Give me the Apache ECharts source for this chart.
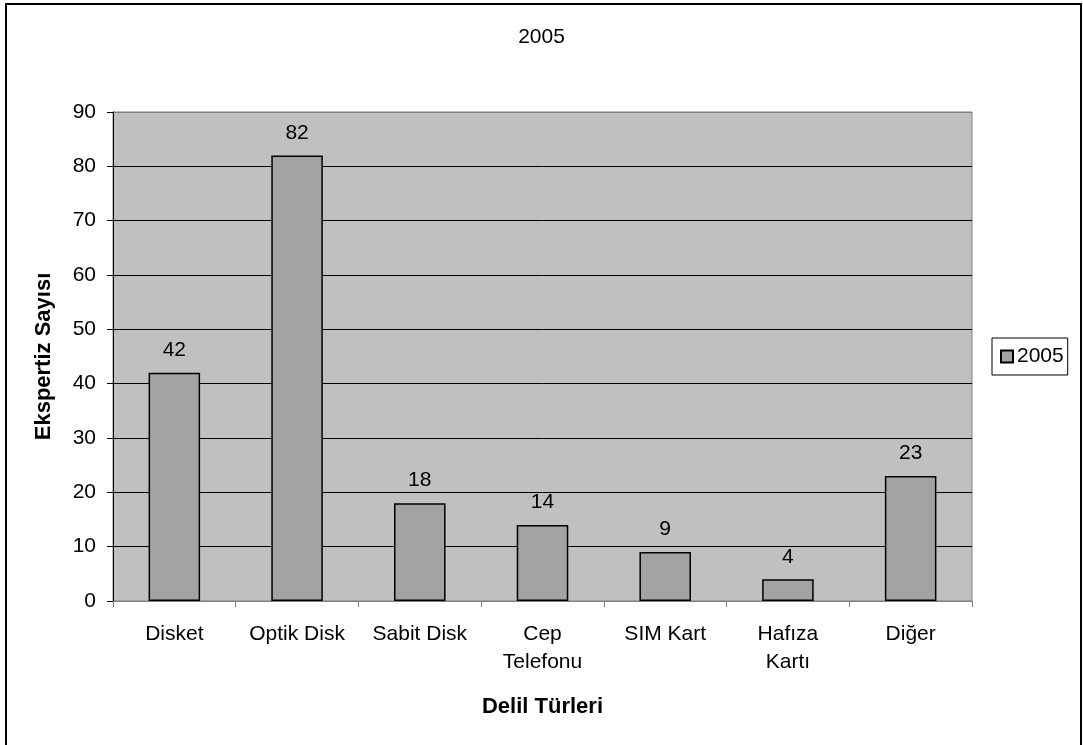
<!DOCTYPE html>
<html>
<head>
<meta charset="utf-8">
<script src="https://cdn.jsdelivr.net/npm/echarts@6/dist/echarts.min.js"></script>
<style>
  html, body { margin: 0; padding: 0; background: #fff; }
  #chart { width: 1083px; height: 745px; }
</style>
</head>
<body>
<div id="chart"></div>
<script>
// Evidence types examined in 2005 and their counts
const categories = ['Disket', 'Optik Disk', 'Sabit Disk', 'Cep\nTelefonu', 'SIM Kart', 'Hafıza\nKartı', 'Diğer'];
const counts2005 = [42, 82, 18, 14, 9, 4, 23];
const seriesName = '2005';
const chartTitle = '2005';
const yAxisTitle = 'Ekspertiz Sayısı';
const xAxisTitle = 'Delil Türleri';

const FONT = "'Liberation Sans', Arial, sans-serif";
const FS = 21;

const chart = echarts.init(document.getElementById('chart'), null, { renderer: 'canvas' });

chart.setOption({
  animation: false,
  backgroundColor: '#fff',
  textStyle: { fontFamily: FONT, color: '#000' },
  title: {
    text: chartTitle,
    left: 'center',
    top: 22,
    textStyle: { fontFamily: FONT, fontSize: FS, fontWeight: 'normal', color: '#000' }
  },
  legend: {
    left: 992,
    top: 338,
    orient: 'vertical',
    backgroundColor: '#fff',
    borderColor: '#000',
    borderWidth: 1,
    borderRadius: 0,
    padding: [8, 4, 8, 8],
    itemWidth: 12,
    itemHeight: 12,
    icon: 'rect',
    textStyle: { fontFamily: FONT, fontSize: FS, color: '#000', padding: [0, 0, 0, -1] },
    data: [seriesName]
  },
  graphic: [
    {
      type: 'rect',
      shape: { x: 6, y: 4, width: 1075, height: 760 },
      style: { fill: 'none', stroke: '#000', lineWidth: 2 },
      silent: true,
      z: 100
    }
  ],
  grid: {
    left: 113,
    right: 111,
    top: 112,
    bottom: 144,
    show: true,
    backgroundColor: '#C0C0C0',
    borderColor: '#808080',
    borderWidth: 1
  },
  xAxis: {
    type: 'category',
    data: categories,
    name: xAxisTitle,
    nameLocation: 'middle',
    nameGap: 95,
    nameTextStyle: { fontFamily: FONT, fontSize: 22, fontWeight: 'bold', color: '#000' },
    axisLine: { show: true, lineStyle: { color: '#808080', width: 1 } },
    axisTick: { show: true, alignWithLabel: false, length: 6, lineStyle: { color: '#808080' } },
    axisLabel: {
      fontFamily: FONT,
      fontSize: FS,
      color: '#000',
      margin: 19,
      lineHeight: 28,
      interval: 0
    },
    splitLine: { show: false }
  },
  yAxis: {
    type: 'value',
    min: 0,
    max: 90,
    interval: 10,
    name: yAxisTitle,
    nameLocation: 'middle',
    nameGap: 58,
    nameTextStyle: { fontFamily: FONT, fontSize: 22, fontWeight: 'bold', color: '#000' },
    axisLine: { show: true, lineStyle: { color: '#000', width: 1 } },
    axisTick: { show: true, length: 6, lineStyle: { color: '#000' } },
    axisLabel: { fontFamily: FONT, fontSize: FS, color: '#000', margin: 17 },
    splitLine: {
      show: true,
      lineStyle: {
        color: ['#808080', '#000', '#000', '#000', '#000', '#000', '#000', '#000', '#000', '#808080'],
        width: 1
      }
    }
  },
  series: [
    {
      name: seriesName,
      type: 'bar',
      data: counts2005,
      barWidth: '42%',
      itemStyle: { color: '#A3A3A3', borderColor: '#000', borderWidth: 1.5 },
      label: {
        show: true,
        position: 'top',
        distance: 12,
        fontFamily: FONT,
        fontSize: FS,
        color: '#000'
      }
    }
  ]
});
</script>
</body>
</html>
